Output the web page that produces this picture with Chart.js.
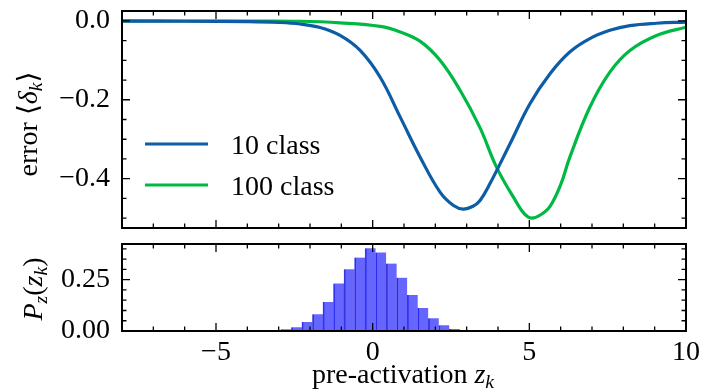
<!DOCTYPE html>
<html lang="en">
<head>
<meta charset="UTF-8">
<title>Error vs pre-activation</title>
<style>
  body { margin: 0; background: #fff; }
  #fig {
    position: relative; width: 701px; height: 391px; overflow: hidden;
    font-family: "Liberation Serif", "DejaVu Serif", serif; color: #000;
  }
  canvas { position: absolute; left: 0; }
  #topChart { top: 0; }
  #botChart { top: 232px; }
  .label { position: absolute; white-space: nowrap; font-size: 28px; line-height: 1; }
  .ylab { transform: translate(-50%, -50%) rotate(-90deg); }
  .xlab { transform: translateX(-50%); }
  .label sub { font-size: 0.7em; vertical-align: -0.25em; line-height: 0; }
</style>
<script src="https://cdn.jsdelivr.net/npm/chart.js"></script>
</head>
<body>
<div id="fig">
  <canvas id="topChart" width="701" height="240"></canvas>
  <canvas id="botChart" width="701" height="159"></canvas>
  <div class="label ylab" style="left:28px; top:124px">error ⟨<i>δ</i><sub><i>k</i></sub>⟩</div>
  <div class="label ylab" style="left:33px; top:289px"><i>P</i><sub><i>z</i></sub>(<i>z</i><sub><i>k</i></sub>)</div>
  <div class="label xlab" style="left:403px; top:360px">pre-activation <i>z</i><sub><i>k</i></sub></div>
</div>

<script>
  // mean error vs pre-activation
  const zBlue = [-8, -6, -4, -3, -2.32, -1.68, -1.04, -0.4, 0.24, 0.88, 1.52, 2.15, 2.58, 2.89, 3.2, 3.42, 3.74, 4.38, 5.02, 5.66, 6.29, 6.93, 7.57, 8.21, 9.06, 10];
  const dBlue = [-0.0005, -0.001, -0.002, -0.004, -0.008, -0.017, -0.037, -0.075, -0.143, -0.244, -0.346, -0.434, -0.468, -0.477, -0.470, -0.456, -0.413, -0.312, -0.210, -0.134, -0.079, -0.045, -0.024, -0.012, -0.006, -0.003];
  const zGreen = [-8, -4, -2.32, -1.04, 0.24, 0.88, 1.52, 2.15, 2.79, 3.42, 3.96, 4.59, 4.85, 5.07, 5.35, 5.66, 6.0, 6.29, 6.93, 7.57, 8.21, 9.06, 10];
  const dGreen = [-0.0002, -0.0005, -0.001, -0.005, -0.014, -0.028, -0.052, -0.100, -0.176, -0.270, -0.372, -0.460, -0.490, -0.500, -0.492, -0.470, -0.415, -0.346, -0.219, -0.130, -0.075, -0.037, -0.016];
  const seriesNames = ['10 class', '100 class'];

  // histogram of pre-activations (bin centres and density)
  const binCenters = [-2.762, -2.426, -2.090, -1.754, -1.418, -1.082, -0.746, -0.410, -0.074, 0.262, 0.598, 0.934, 1.270, 1.606, 1.942, 2.278, 2.614, 2.950];
  const binHeights = [0.008, 0.018, 0.044, 0.082, 0.141, 0.232, 0.301, 0.358, 0.403, 0.383, 0.329, 0.260, 0.176, 0.112, 0.062, 0.028, 0.010, 0.005];

  const xTicks = [-5, 0, 5, 10];
  const topYTicks = [0, -0.2, -0.4];
  const botYTicks = [0, 0.25];

  const FONT = 'Liberation Serif';
  const FS = 28;
  const BLUE = '#0C5DA5';
  const GREEN = '#00B945';

  const minus = s => s.replace('-', '\u2212');

  // inward ticks on all four sides + black frame (matplotlib "science" look)
  const axisFrame = {
    id: 'axisFrame',
    afterDraw(chart, args, o) {
      const ctx = chart.ctx;
      const a = chart.chartArea;
      const x = chart.scales.x, y = chart.scales.y;
      const isMajor = (v, step) => Math.abs(v / step - Math.round(v / step)) < 1e-6;
      ctx.save();
      ctx.strokeStyle = '#000';
      ctx.lineWidth = 1.3;
      ctx.beginPath();
      for (let i = Math.ceil(x.min / o.xMinor - 1e-9); i * o.xMinor <= x.max + 1e-9; i++) {
        const v = i * o.xMinor;
        const px = x.getPixelForValue(v);
        const len = isMajor(v, o.xMajor) ? 8 : 4.5;
        ctx.moveTo(px, a.bottom); ctx.lineTo(px, a.bottom - len);
        ctx.moveTo(px, a.top); ctx.lineTo(px, a.top + len);
      }
      for (let i = Math.ceil(y.min / o.yMinor - 1e-9); i * o.yMinor <= y.max + 1e-9; i++) {
        const v = i * o.yMinor;
        const py = y.getPixelForValue(v);
        const len = isMajor(v, o.yMajor) ? 8 : 4.5;
        ctx.moveTo(a.left, py); ctx.lineTo(a.left + len, py);
        ctx.moveTo(a.right, py); ctx.lineTo(a.right - len, py);
      }
      ctx.stroke();
      ctx.lineWidth = 2;
      ctx.strokeRect(a.left, a.top, a.right - a.left, a.bottom - a.top);
      ctx.restore();
    }
  };

  // legend sitting inside the lower left of the top panel
  const innerLegend = {
    id: 'innerLegend',
    afterDraw(chart) {
      const ctx = chart.ctx;
      const rows = [154, 195];
      ctx.save();
      ctx.font = FS + 'px "' + FONT + '"';
      ctx.fillStyle = '#000';
      ctx.textBaseline = 'alphabetic';
      chart.data.datasets.forEach((ds, i) => {
        const yLine = rows[i] - 10;
        ctx.strokeStyle = ds.borderColor;
        ctx.lineWidth = 3.2;
        ctx.beginPath();
        ctx.moveTo(145, yLine);
        ctx.lineTo(208, yLine);
        ctx.stroke();
        ctx.fillText(ds.label, 231, rows[i]);
      });
      ctx.restore();
    }
  };

  const pairs = (xs, ys) => xs.map((v, i) => ({ x: v, y: ys[i] }));

  const yAxisCommon = {
    grid: { display: false, drawTicks: false },
    border: { display: false },
    afterFit: s => { s.width = 122; s.paddingTop = 0; s.paddingBottom = 0; }
  };

  const lineStyle = { borderWidth: 3.2, tension: 0.4, pointRadius: 0, fill: false };

  new Chart(document.getElementById('topChart'), {
    type: 'line',
    data: {
      datasets: [
        Object.assign({ label: seriesNames[0], data: pairs(zBlue, dBlue), borderColor: BLUE }, lineStyle),
        Object.assign({ label: seriesNames[1], data: pairs(zGreen, dGreen), borderColor: GREEN }, lineStyle)
      ]
    },
    options: {
      responsive: false,
      animation: false,
      layout: { padding: { top: 11, bottom: 12, right: 15, left: 0 } },
      scales: {
        x: { type: 'linear', min: -8, max: 10, display: false },
        y: Object.assign({}, yAxisCommon, {
          min: -0.525, max: 0.025,
          ticks: {
            color: '#000', padding: 12,
            font: { family: FONT, size: FS, lineHeight: 1 },
            callback: v => minus(v === 0 ? '0.0' : v.toFixed(1))
          },
          afterBuildTicks: s => { s.ticks = topYTicks.map(v => ({ value: v })); }
        })
      },
      plugins: {
        legend: { display: false },
        tooltip: { enabled: false },
        axisFrame: { xMajor: 5, xMinor: 1, yMajor: 0.2, yMinor: 0.05 }
      }
    },
    plugins: [axisFrame, innerLegend]
  });

  new Chart(document.getElementById('botChart'), {
    type: 'bar',
    data: {
      datasets: [{
        data: pairs(binCenters, binHeights),
        backgroundColor: 'rgba(0, 0, 255, 0.6)',
        borderColor: 'rgba(0, 0, 210, 0.75)',
        borderWidth: { left: 1, right: 0, top: 0, bottom: 0 },
        barPercentage: 1,
        categoryPercentage: 1
      }]
    },
    options: {
      responsive: false,
      animation: false,
      layout: { padding: { top: 12, bottom: 0, right: 15, left: 0 } },
      scales: {
        x: {
          type: 'linear', min: -8, max: 10, offset: false,
          grid: { display: false, drawTicks: false },
          border: { display: false },
          ticks: {
            color: '#000', padding: 8, maxRotation: 0, autoSkip: false,
            font: { family: FONT, size: FS, lineHeight: 1 },
            callback: v => minus(String(v))
          },
          afterBuildTicks: s => { s.ticks = xTicks.map(v => ({ value: v })); },
          afterFit: s => { s.height = 60; s.paddingLeft = 0; s.paddingRight = 0; }
        },
        y: Object.assign({}, yAxisCommon, {
          min: 0, max: 0.424,
          ticks: {
            color: '#000', padding: 12,
            font: { family: FONT, size: FS, lineHeight: 1 },
            callback: v => v.toFixed(2)
          },
          afterBuildTicks: s => { s.ticks = botYTicks.map(v => ({ value: v })); }
        })
      },
      plugins: {
        legend: { display: false },
        tooltip: { enabled: false },
        axisFrame: { xMajor: 5, xMinor: 1, yMajor: 0.25, yMinor: 0.05 }
      }
    },
    plugins: [axisFrame]
  });
</script>
</body>
</html>
